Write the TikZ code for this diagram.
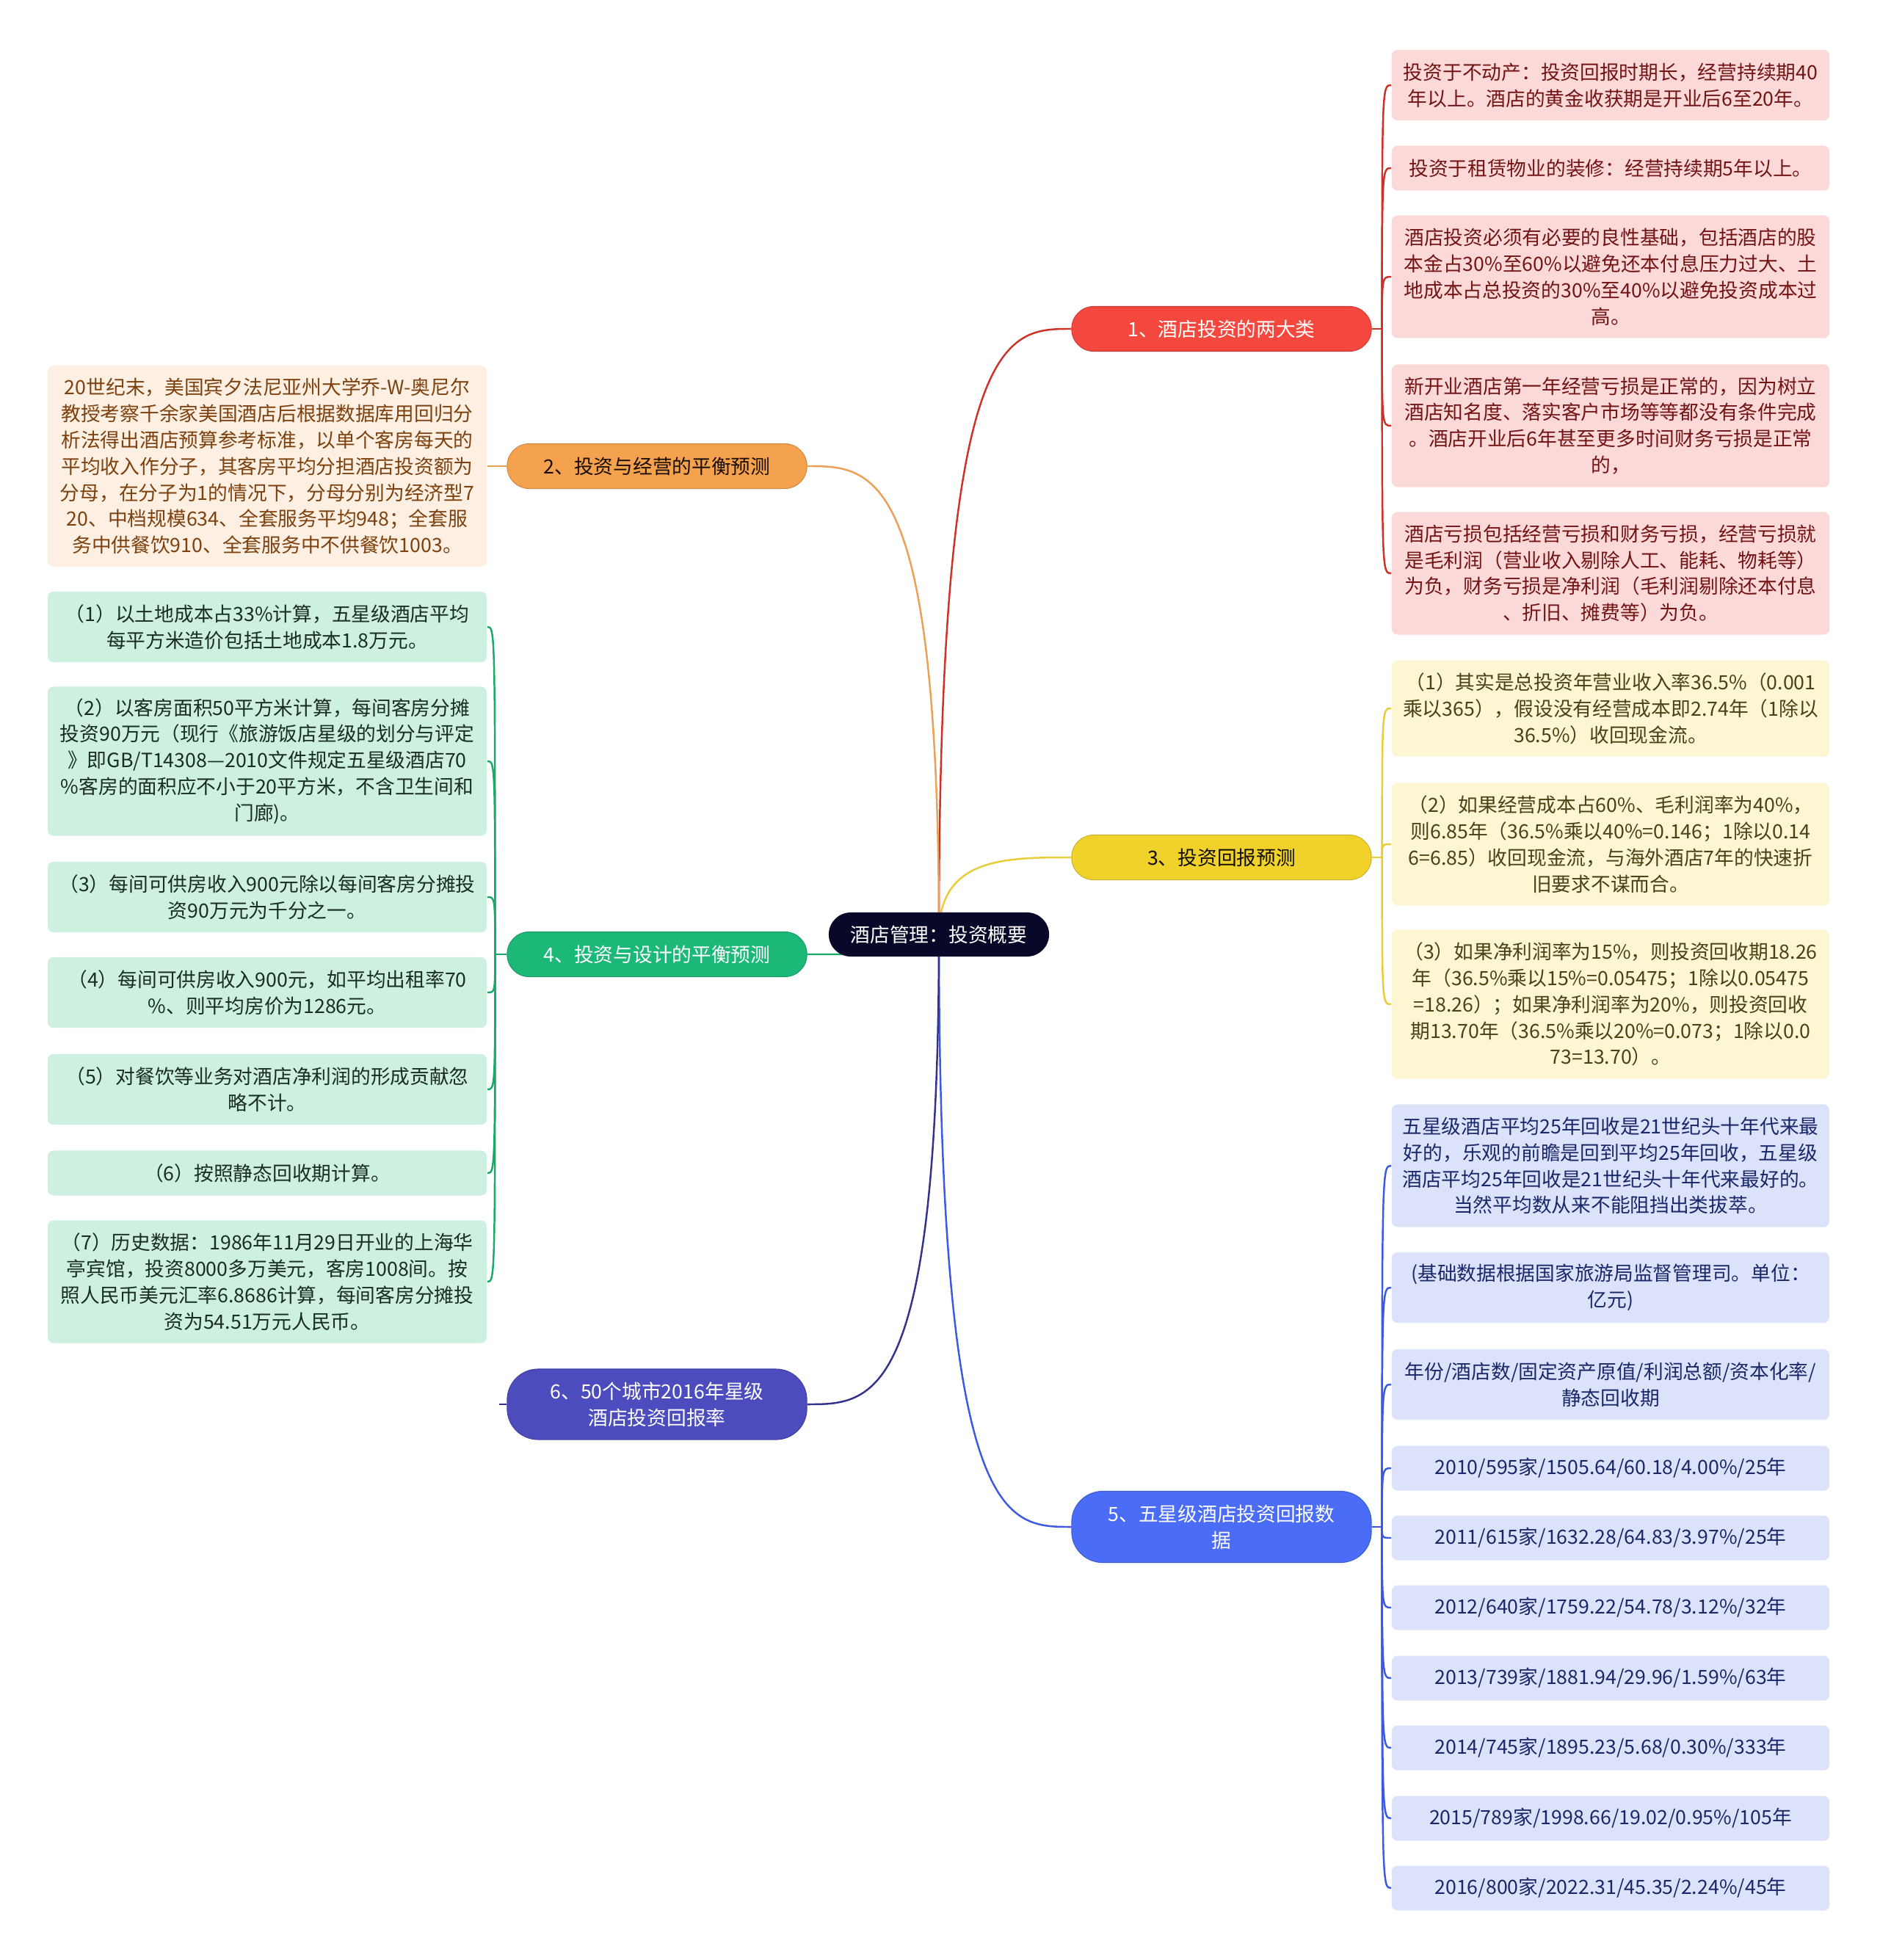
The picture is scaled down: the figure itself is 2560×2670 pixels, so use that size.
\documentclass[tikz,border=0pt]{standalone}
\usepackage{fontspec}
\setmainfont{Noto Sans CJK SC}
\usetikzlibrary{backgrounds}
\definecolor{map-navy}{RGB}{8,8,40}
\definecolor{map-red}{RGB}{244,72,62}
\definecolor{map-orange}{RGB}{245,162,78}
\definecolor{map-yellow}{RGB}{240,210,42}
\definecolor{map-green}{RGB}{28,184,120}
\definecolor{map-blue}{RGB}{74,108,246}
\definecolor{map-indigo}{RGB}{76,76,190}
\definecolor{map-redleaf}{RGB}{252,217,217}
\definecolor{map-orangeleaf}{RGB}{253,239,225}
\definecolor{map-yellowleaf}{RGB}{252,246,211}
\definecolor{map-greenleaf}{RGB}{205,240,224}
\definecolor{map-blueleaf}{RGB}{221,226,251}
\definecolor{map-redtext}{RGB}{115,20,20}
\definecolor{map-orangetext}{RGB}{125,65,15}
\definecolor{map-yellowtext}{RGB}{75,65,20}
\definecolor{map-greentext}{RGB}{25,45,35}
\definecolor{map-bluetext}{RGB}{25,40,105}
\definecolor{map-redline}{RGB}{205,50,40}
\definecolor{map-orangeline}{RGB}{236,160,85}
\definecolor{map-yellowline}{RGB}{232,205,55}
\definecolor{map-greenline}{RGB}{25,170,105}
\definecolor{map-blueline}{RGB}{60,90,225}
\definecolor{map-indigoline}{RGB}{50,50,140}
\newcommand{\mapfont}{\fontsize{7.6}{10.2}\selectfont}

\tikzset{
    topic/.style={rounded corners=0.3cm, minimum width=4.08cm, minimum height=0.61cm,
        inner sep=0pt, align=center, font=\mapfont},
    leaf/.style={rounded corners=0.08cm, minimum width=5.96cm, inner sep=0pt,
        align=center, font=\mapfont},
    lines1/.style={minimum height=0.61cm},
    lines2/.style={minimum height=0.96cm},
    lines3/.style={minimum height=1.31cm},
    lines4/.style={minimum height=1.67cm},
    lines5/.style={minimum height=2.03cm},
    lines7/.style={minimum height=2.74cm},
    link/.style={line width=0.7pt},
}

\begin{document}
\begin{tikzpicture}[x=0.01cm, y=-0.01cm]
    \useasboundingbox (0,0) rectangle (2560,2670);

    % centre and main topics
    \node[topic, minimum width=3.0cm, minimum height=0.6cm, fill=map-navy, text=white] (root) at (1279,1273) {酒店管理：投资概要};
    \node[topic, fill=map-red, draw=map-red!85!black, line width=0.3pt, text=white] (n1) at (1664,448) {1、酒店投资的两大类};
    \node[topic, fill=map-orange, draw=map-orange!85!black, line width=0.3pt, text=black!80!map-orangetext] (n2) at (895,635) {2、投资与经营的平衡预测};
    \node[topic, fill=map-yellow, draw=map-yellow!85!black, line width=0.3pt, text=black!80!map-yellowtext] (n3) at (1664,1168) {3、投资回报预测};
    \node[topic, fill=map-green, draw=map-green!85!black, line width=0.3pt, text=white] (n4) at (895,1300) {4、投资与设计的平衡预测};
    \node[topic, rounded corners=0.42cm, minimum height=0.97cm, fill=map-blue, draw=map-blue!85!black, line width=0.3pt, text=white] (n5) at (1664,2080) {5、五星级酒店投资回报数\\据};
    \node[topic, rounded corners=0.42cm, minimum height=0.96cm, fill=map-indigo, draw=map-indigo!85!black, line width=0.3pt, text=white] (n6) at (895,1913) {6、50个城市2016年星级\\酒店投资回报率};

    % 1
    \node[leaf, lines2, fill=map-redleaf, text=map-redtext] (r1) at (2194,116) {投资于不动产：投资回报时期长，经营持续期40\\年以上。酒店的黄金收获期是开业后6至20年。};
    \node[leaf, lines1, fill=map-redleaf, text=map-redtext] (r2) at (2194,229) {投资于租赁物业的装修：经营持续期5年以上。};
    \node[leaf, lines4, fill=map-redleaf, text=map-redtext] (r3) at (2194,377) {酒店投资必须有必要的良性基础，包括酒店的股\\本金占30\%至60\%以避免还本付息压力过大、土\\地成本占总投资的30\%至40\%以避免投资成本过\\高。};
    \node[leaf, lines4, fill=map-redleaf, text=map-redtext] (r4) at (2194,580) {新开业酒店第一年经营亏损是正常的，因为树立\\酒店知名度、落实客户市场等等都没有条件完成\\。酒店开业后6年甚至更多时间财务亏损是正常\\的，};
    \node[leaf, lines4, fill=map-redleaf, text=map-redtext] (r5) at (2194,781) {酒店亏损包括经营亏损和财务亏损，经营亏损就\\是毛利润（营业收入剔除人工、能耗、物耗等）\\为负，财务亏损是净利润（毛利润剔除还本付息\\、折旧、摊费等）为负。};

    % 2
    \node[leaf, minimum width=5.98cm, lines7, fill=map-orangeleaf, text=map-orangetext] (o1) at (364,635) {20世纪末，美国宾夕法尼亚州大学乔-W-奥尼尔\\教授考察千余家美国酒店后根据数据库用回归分\\析法得出酒店预算参考标准，以单个客房每天的\\平均收入作分子，其客房平均分担酒店投资额为\\分母，在分子为1的情况下，分母分别为经济型7\\20、中档规模634、全套服务平均948；全套服\\务中供餐饮910、全套服务中不供餐饮1003。};

    % 3
    \node[leaf, lines3, fill=map-yellowleaf, text=map-yellowtext] (y1) at (2194,965) {（1）其实是总投资年营业收入率36.5\%（0.001\\乘以365），假设没有经营成本即2.74年（1除以\\36.5\%）收回现金流。};
    \node[leaf, lines4, fill=map-yellowleaf, text=map-yellowtext] (y2) at (2194,1150) {（2）如果经营成本占60\%、毛利润率为40\%，\\则6.85年（36.5\%乘以40\%=0.146；1除以0.14\\6=6.85）收回现金流，与海外酒店7年的快速折\\旧要求不谋而合。};
    \node[leaf, lines5, fill=map-yellowleaf, text=map-yellowtext] (y3) at (2194,1368) {（3）如果净利润率为15\%，则投资回收期18.26\\年（36.5\%乘以15\%=0.05475；1除以0.05475\\=18.26）；如果净利润率为20\%，则投资回收\\期13.70年（36.5\%乘以20\%=0.073；1除以0.0\\73=13.70）。};

    % 4
    \node[leaf, minimum width=5.98cm, lines2, fill=map-greenleaf, text=map-greentext] (g1) at (364,854) {（1）以土地成本占33\%计算，五星级酒店平均\\每平方米造价包括土地成本1.8万元。};
    \node[leaf, minimum width=5.98cm, lines5, fill=map-greenleaf, text=map-greentext] (g2) at (364,1037) {（2）以客房面积50平方米计算，每间客房分摊\\投资90万元（现行《旅游饭店星级的划分与评定\\》即GB/T14308—2010文件规定五星级酒店70\\\%客房的面积应不小于20平方米，不含卫生间和\\门廊)。};
    \node[leaf, minimum width=5.98cm, lines2, fill=map-greenleaf, text=map-greentext] (g3) at (364,1222) {（3）每间可供房收入900元除以每间客房分摊投\\资90万元为千分之一。};
    \node[leaf, minimum width=5.98cm, lines2, fill=map-greenleaf, text=map-greentext] (g4) at (364,1352) {（4）每间可供房收入900元，如平均出租率70\\\%、则平均房价为1286元。};
    \node[leaf, minimum width=5.98cm, lines2, fill=map-greenleaf, text=map-greentext] (g5) at (364,1484) {（5）对餐饮等业务对酒店净利润的形成贡献忽\\略不计。};
    \node[leaf, minimum width=5.98cm, lines1, fill=map-greenleaf, text=map-greentext] (g6) at (364,1598) {（6）按照静态回收期计算。};
    \node[leaf, minimum width=5.98cm, lines4, fill=map-greenleaf, text=map-greentext] (g7) at (364,1746) {（7）历史数据：1986年11月29日开业的上海华\\亭宾馆，投资8000多万美元，客房1008间。按\\照人民币美元汇率6.8686计算，每间客房分摊投\\资为54.51万元人民币。};

    % 5
    \node[leaf, lines4, fill=map-blueleaf, text=map-bluetext] (b1) at (2194,1588) {五星级酒店平均25年回收是21世纪头十年代来最\\好的，乐观的前瞻是回到平均25年回收，五星级\\酒店平均25年回收是21世纪头十年代来最好的。\\当然平均数从来不能阻挡出类拔萃。};
    \node[leaf, lines2, fill=map-blueleaf, text=map-bluetext] (b2) at (2194,1754) {(基础数据根据国家旅游局监督管理司。单位：\\亿元)};
    \node[leaf, lines2, fill=map-blueleaf, text=map-bluetext] (b3) at (2194,1886) {年份/酒店数/固定资产原值/利润总额/资本化率/\\静态回收期};
    \node[leaf, lines1, fill=map-blueleaf, text=map-bluetext] (b4) at (2194,2000) {2010/595家/1505.64/60.18/4.00\%/25年};
    \node[leaf, lines1, fill=map-blueleaf, text=map-bluetext] (b5) at (2194,2095) {2011/615家/1632.28/64.83/3.97\%/25年};
    \node[leaf, lines1, fill=map-blueleaf, text=map-bluetext] (b6) at (2194,2190) {2012/640家/1759.22/54.78/3.12\%/32年};
    \node[leaf, lines1, fill=map-blueleaf, text=map-bluetext] (b7) at (2194,2286) {2013/739家/1881.94/29.96/1.59\%/63年};
    \node[leaf, lines1, fill=map-blueleaf, text=map-bluetext] (b8) at (2194,2381) {2014/745家/1895.23/5.68/0.30\%/333年};
    \node[leaf, lines1, fill=map-blueleaf, text=map-bluetext] (b9) at (2194,2477) {2015/789家/1998.66/19.02/0.95\%/105年};
    \node[leaf, lines1, fill=map-blueleaf, text=map-bluetext] (b10) at (2194,2572) {2016/800家/2022.31/45.35/2.24\%/45年};

    \begin{scope}[on background layer]
        \fill[white] (0,0) rectangle (2560,2670);

        % centre to topics
        \draw[link, map-redline] (root.center) .. controls (root.center |- n1.west) and +(-90,0) .. (n1.west);
        \draw[link, map-yellowline] (root.center) .. controls (root.center |- n3.west) and +(-90,0) .. (n3.west);
        \draw[link, map-blueline] (root.center) .. controls (root.center |- n5.west) and +(-90,0) .. (n5.west);
        \draw[link, map-orangeline] (n2.east) .. controls +(90,0) and (root.center |- n2.east) .. (root.center);
        \draw[link, map-greenline] (n4.east) .. controls (root.center |- n4.east) .. (root.center);
        \draw[link, map-indigoline] (n6.east) .. controls +(90,0) and (root.center |- n6.east) .. (root.center);

        % topics to leaves
        \draw[link, map-redline] (n1.east) -- ++(14,0) coordinate (s1);
        \foreach \c in {r1,r2,r3,r4,r5}
            \draw[link, map-redline] (s1) .. controls (s1 |- \c.west) .. (\c.west);
        \draw[link, map-yellowline] (n3.east) -- ++(14,0) coordinate (s3);
        \foreach \c in {y1,y2,y3}
            \draw[link, map-yellowline] (s3) .. controls (s3 |- \c.west) .. (\c.west);
        \draw[link, map-blueline] (n5.east) -- ++(14,0) coordinate (s5);
        \foreach \c in {b1,b2,b3,b4,b5,b6,b7,b8,b9,b10}
            \draw[link, map-blueline] (s5) .. controls (s5 |- \c.west) .. (\c.west);
        \draw[link, map-greenline] (n4.west) -- ++(-16,0) coordinate (s4);
        \foreach \c in {g1,g2,g3,g4,g5,g6,g7}
            \draw[link, map-greenline] (s4) .. controls (s4 |- \c.east) .. (\c.east);
        \draw[link, map-orangeline] (n2.west) -- (o1.east);
        \draw[link, map-indigoline] (n6.west) -- ++(-10,0);
    \end{scope}
\end{tikzpicture}
\end{document}
